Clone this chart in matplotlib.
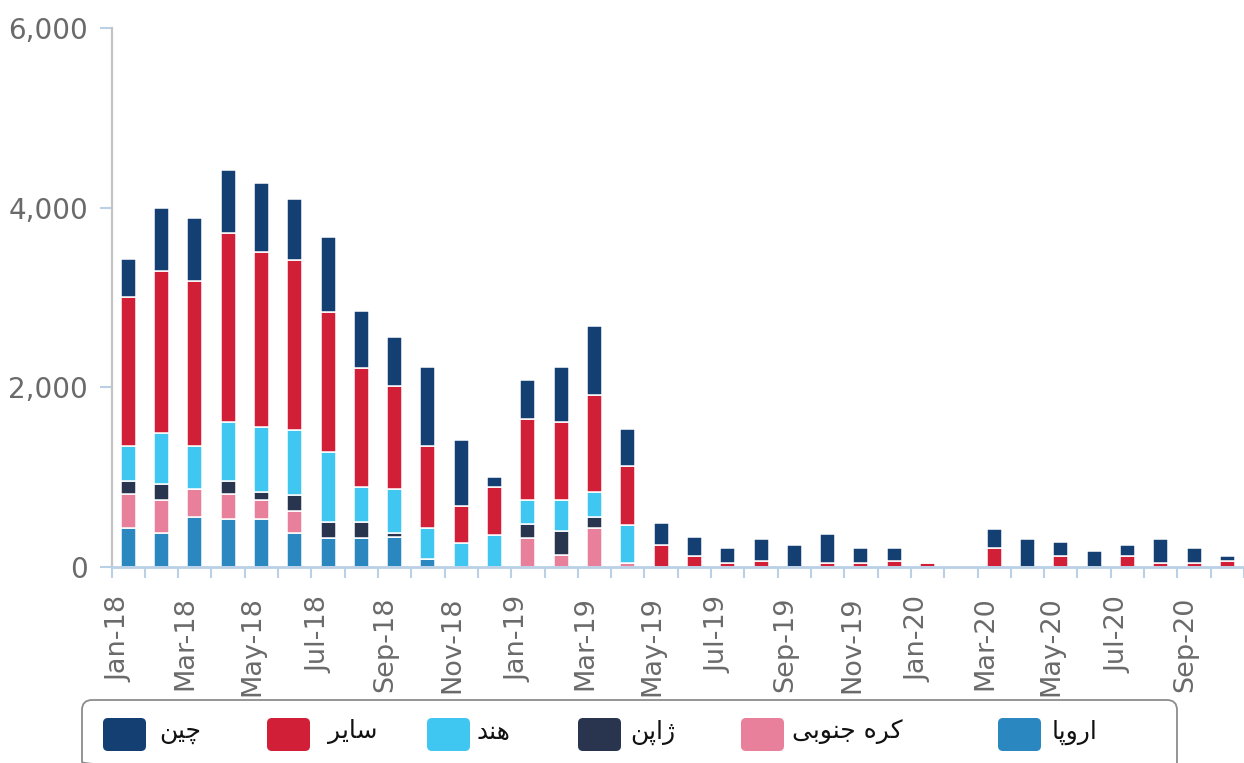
import matplotlib
matplotlib.use("Agg")
import matplotlib.pyplot as plt
from matplotlib.patches import FancyBboxPatch
from matplotlib.transforms import ScaledTranslation
import numpy as np

# ---------------- data ----------------
months = ["Jan-18", "Feb-18", "Mar-18", "Apr-18", "May-18", "Jun-18", "Jul-18", "Aug-18",
          "Sep-18", "Oct-18", "Nov-18", "Dec-18", "Jan-19", "Feb-19", "Mar-19", "Apr-19",
          "May-19", "Jun-19", "Jul-19", "Aug-19", "Sep-19", "Oct-19", "Nov-19", "Dec-19",
          "Jan-20", "Feb-20", "Mar-20", "Apr-20", "May-20", "Jun-20", "Jul-20", "Aug-20",
          "Sep-20", "Oct-20"]

europe = [437, 381, 559, 530, 530, 381, 322, 322, 330, 85, 0, 0, 0, 0, 0, 0,
          0, 0, 0, 0, 0, 0, 0, 0, 0, 0, 0, 0, 0, 0, 0, 0, 0, 0]
korea = [371, 363, 304, 278, 214, 241, 0, 0, 0, 0, 0, 0, 322, 137, 433, 45,
         0, 0, 0, 0, 0, 0, 0, 0, 0, 0, 0, 0, 0, 0, 0, 0, 0, 0]
japan = [147, 178, 0, 147, 89, 181, 181, 181, 51, 0, 0, 0, 152, 263, 119, 0,
         0, 0, 0, 0, 0, 0, 0, 0, 0, 0, 0, 0, 0, 0, 0, 0, 0, 0]
india = [393, 570, 485, 660, 722, 722, 778, 389, 482, 352, 263, 351, 270, 344, 278, 426,
         0, 0, 0, 0, 0, 0, 0, 0, 0, 0, 0, 0, 0, 0, 0, 0, 0, 0]
other = [1655, 1808, 1833, 2104, 1956, 1893, 1563, 1327, 1148, 911, 418, 541, 900, 871, 1081, 656,
         250, 125, 45, 70, 0, 45, 45, 70, 45, 0, 215, 0, 122, 0, 122, 48, 50, 72]
china = [427, 700, 700, 703, 763, 674, 826, 636, 548, 878, 738, 111, 434, 615, 770, 411,
         235, 208, 170, 237, 244, 322, 170, 145, 0, 0, 207, 307, 152, 181, 122, 263, 165, 48]

# legend labels (Persian, shaped presentation forms in visual order)
label_china = "\uFEE6\uFBFF\uFB7C"                                   # چین
label_other = "\uFEAE\uFBFE\uFE8E\uFEB3"                             # سایر
label_india = "\uFEAA\uFEE8\uFEEB"                                   # هند
label_japan = "\uFEE6\uFB58\uFE8D\uFB8A"                             # ژاپن
label_korea = "\uFBFD\uFE91\uFEEE\uFEE8\uFE9F \uFEE9\uFEAE\uFB90"    # کره جنوبی
label_europe = "\uFE8E\uFB58\uFEED\uFEAD\uFE8D"                      # اروپا

yticks = [0, 2000, 4000, 6000]

# ---------------- style ----------------
c_europe = "#2a87c0"
c_korea = "#e8809c"
c_japan = "#29354f"
c_india = "#40c7f1"
c_other = "#d01f37"
c_china = "#143f72"
axis_blue = "#bad0e6"
text_gray = "#6a6a6a"

W, H = 1244, 763
fig = plt.figure(figsize=(W / 100, H / 100), dpi=100)
left_px, top_px, base_px = 111.5, 28, 567
ax = fig.add_axes([left_px / W, 1 - base_px / H, (W - left_px) / W, (base_px - top_px) / H])

x = np.arange(len(months))
bottom = np.zeros(len(months))
stack = [(europe, c_europe), (korea, c_korea), (japan, c_japan),
         (india, c_india), (other, c_other), (china, c_china)]
for vals, col in stack:
    v = np.array(vals, dtype=float)
    ax.bar(x, v, 0.45, bottom=bottom, color=col, edgecolor="white", linewidth=1.1, zorder=2)
    bottom += v

step_px = 33.52
ax.set_xlim(-0.5, -0.5 + (W - left_px) / step_px)
ax.set_ylim(0, 6000)

for s in ["top", "right"]:
    ax.spines[s].set_visible(False)
ax.spines["left"].set_color("#c4c4c4")
ax.spines["left"].set_linewidth(1.6)
ax.spines["bottom"].set_color(axis_blue)
ax.spines["bottom"].set_linewidth(2)

ax.set_yticks(yticks)
ax.set_yticklabels([f"{v:,}" for v in yticks])
ax.tick_params(axis="y", length=9, width=1.5, color=axis_blue, labelsize=20,
               labelcolor=text_gray, pad=8)

ax.set_xticks(x[::2])
ax.set_xticklabels(months[::2], rotation=90)
ax.tick_params(axis="x", which="major", length=0, pad=21, labelsize=19.5, labelcolor=text_gray)
ax.set_xticks(np.arange(len(months) + 1) - 0.5, minor=True)
ax.tick_params(axis="x", which="minor", length=8, width=1.5, color=axis_blue)
off = ScaledTranslation(-0.09, 0, fig.dpi_scale_trans)
for lab in ax.get_xticklabels():
    lab.set_transform(lab.get_transform() + off)

# ---------------- legend ----------------
lg = fig.add_axes([0, 0, 1, 1], zorder=5)
lg.set_xlim(0, W)
lg.set_ylim(H, 0)
lg.axis("off")
lg.patch.set_alpha(0)
lg.add_patch(FancyBboxPatch((82, 700), 1095, 72, boxstyle="round,pad=0,rounding_size=10",
                            fc="none", ec="#8c8c8c", lw=1.3))
entries = [(label_china, c_china, 103, 159), (label_other, c_other, 267, 328),
           (label_india, c_india, 427, 477), (label_japan, c_japan, 578, 630),
           (label_korea, c_korea, 741, 792), (label_europe, c_europe, 998, 1052)]
for lab, col, sx, tx in entries:
    lg.add_patch(FancyBboxPatch((sx, 718), 43, 33, boxstyle="round,pad=0,rounding_size=5",
                                fc=col, ec="none"))
    lg.text(tx, 732, lab, ha="left", va="center", fontsize=18, color="#111111",
            family=["DejaVu Sans"])

fig.savefig("out.png", dpi=100)
